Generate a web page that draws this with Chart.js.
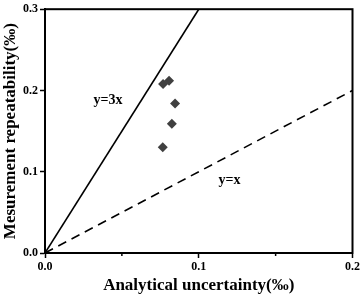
<!DOCTYPE html>
<html>
<head>
<meta charset="utf-8">
<script src="https://cdn.jsdelivr.net/npm/chart.js@4"></script>
<style>
  html, body { margin: 0; padding: 0; background: #fff; }
  #wrap { width: 362px; height: 296px; }
</style>
</head>
<body>
<div id="wrap"><canvas id="chart" width="362" height="296"></canvas></div>
<script>
// measured samples
const uncertainty = [0.0768, 0.0807, 0.0846, 0.0825, 0.0766];
const repeatability = [0.208, 0.212, 0.184, 0.159, 0.130];

// reference lines
const line3x = [{ x: 0, y: 0 }, { x: 0.1, y: 0.3 }];
const line1x = [{ x: 0, y: 0 }, { x: 0.2, y: 0.2 }];

const xTicks = [0, 0.1, 0.2];
const yTicks = [0, 0.1, 0.2, 0.3];
const xMinor = [0.05, 0.15];

const lineLabels = [
    { text: 'y=3x', x: 0.041, y: 0.188 },
    { text: 'y=x', x: 0.120, y: 0.089 }
];

const serif = '"Liberation Serif", "Times New Roman", serif';

const frame = {
    id: 'frame',
    afterDraw(chart) {
        const ctx = chart.ctx;
        const a = chart.chartArea;
        const xs = chart.scales.x;
        ctx.save();
        ctx.strokeStyle = '#000';
        ctx.lineWidth = 2;
        ctx.strokeRect(a.left, a.top, a.right - a.left, a.bottom - a.top);
        // minor ticks
        ctx.lineWidth = 1.5;
        xMinor.forEach(v => {
            const px = xs.getPixelForValue(v);
            ctx.beginPath();
            ctx.moveTo(px, a.bottom);
            ctx.lineTo(px, a.bottom + 3);
            ctx.stroke();
        });
        // line labels
        ctx.fillStyle = '#000';
        ctx.font = 'bold 14px ' + serif;
        ctx.textAlign = 'center';
        ctx.textBaseline = 'middle';
        lineLabels.forEach(l => {
            ctx.fillText(l.text, xs.getPixelForValue(l.x), chart.scales.y.getPixelForValue(l.y));
        });
        ctx.restore();
    }
};

const points = uncertainty.map((v, i) => ({ x: v, y: repeatability[i] }));

new Chart(document.getElementById('chart'), {
    type: 'scatter',
    data: {
        datasets: [
            {
                data: points,
                pointStyle: 'rectRot',
                pointRadius: 5,
                backgroundColor: '#404040',
                borderColor: '#404040',
                borderWidth: 0
            },
            {
                data: line3x,
                showLine: true,
                borderColor: '#000',
                borderWidth: 1.6,
                pointRadius: 0
            },
            {
                data: line1x,
                showLine: true,
                borderColor: '#000',
                borderWidth: 1.6,
                borderDash: [9, 6],
                pointRadius: 0
            }
        ]
    },
    options: {
        responsive: false,
        animation: false,
        layout: { padding: { top: 6, right: 9, left: 0, bottom: 0 } },
        plugins: {
            legend: { display: false },
            tooltip: { enabled: false }
        },
        scales: {
            x: {
                type: 'linear',
                min: 0,
                max: 0.2,
                afterBuildTicks: s => { s.ticks = xTicks.map(v => ({ value: v })); },
                afterFit: s => { s.height = 43; },
                border: { display: true, color: '#000', width: 2 },
                grid: { drawOnChartArea: false, drawTicks: true, tickLength: 5, color: '#000', tickWidth: 1.5 },
                ticks: {
                    color: '#000',
                    padding: 2,
                    maxRotation: 0,
                    font: { family: serif, size: 12, weight: 'bold' },
                    callback: v => v.toFixed(1)
                },
                title: {
                    display: true,
                    text: 'Analytical uncertainty(‰)',
                    color: '#000',
                    padding: { top: 1, bottom: 0 },
                    font: { family: serif, size: 17, weight: 'bold' }
                }
            },
            y: {
                type: 'linear',
                min: 0,
                max: 0.3,
                afterBuildTicks: s => { s.ticks = yTicks.map(v => ({ value: v })); },
                afterFit: s => { s.width = 45; },
                border: { display: true, color: '#000', width: 2 },
                grid: { drawOnChartArea: false, drawTicks: true, tickLength: 5, color: '#000', tickWidth: 1.5 },
                ticks: {
                    color: '#000',
                    padding: 2,
                    font: { family: serif, size: 12, weight: 'bold' },
                    callback: v => v.toFixed(1)
                },
                title: {
                    display: true,
                    text: 'Mesurement repeatability(‰)',
                    color: '#000',
                    padding: { top: 0, bottom: 2 },
                    font: { family: serif, size: 17, weight: 'bold' }
                }
            }
        }
    },
    plugins: [frame]
});
</script>
</body>
</html>
